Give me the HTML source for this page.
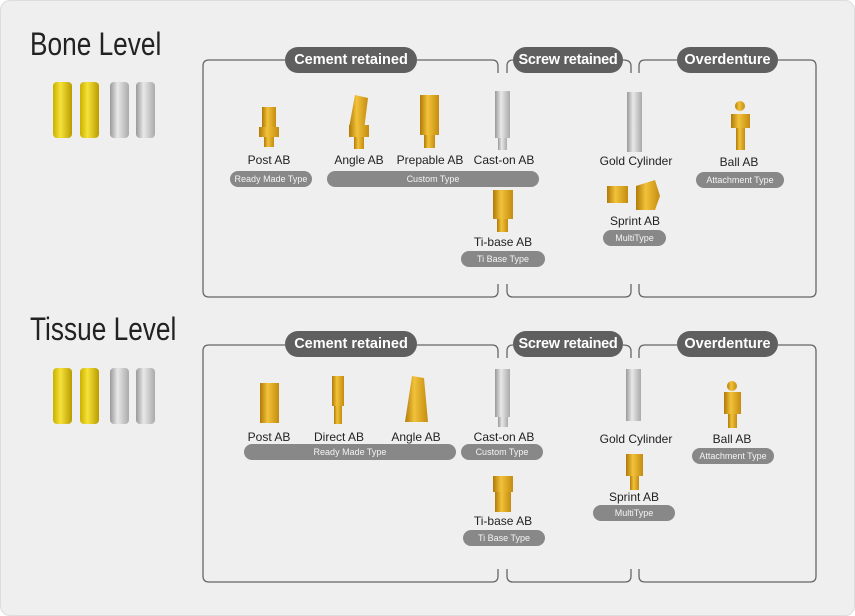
<!DOCTYPE html>
<html><head><meta charset="utf-8"><style>
body{margin:0;width:855px;height:616px;background:#fff;font-family:"Liberation Sans",sans-serif;overflow:hidden}
.bg{position:absolute;left:0;top:0;width:853px;height:614px;background:#efefef;border:1px solid #ddd;border-radius:10px}
.t{position:absolute;font-size:12px;color:#222;white-space:nowrap;transform:translateX(-50%)}
.h{position:absolute;font-size:32px;color:#222;font-family:"Liberation Sans Narrow","Liberation Sans",sans-serif;transform:scaleX(0.82);transform-origin:0 0;white-space:nowrap}
.pill{position:absolute;background:#888;color:#f4f4f4;font-size:9px;height:16px;line-height:16px;text-align:center;border-radius:8px;font-family:"Liberation Sans Narrow","Liberation Sans",sans-serif}
.hp{position:absolute;background:#5f5f5f;color:#fff;font-weight:bold;font-size:14.5px;height:26px;line-height:26px;text-align:center;border-radius:13px;white-space:nowrap}
svg{position:absolute;left:0;top:0}
</style></head><body>
<div class="bg"></div>
<svg width="855" height="616">
<defs><linearGradient id="g" x1="0" x2="1"><stop offset="0" stop-color="#b07a08"/><stop offset=".4" stop-color="#f2c23a"/><stop offset="1" stop-color="#c48c10"/></linearGradient>
<linearGradient id="s" x1="0" x2="1"><stop offset="0" stop-color="#999"/><stop offset=".4" stop-color="#e8e8e8"/><stop offset="1" stop-color="#aaa"/></linearGradient>
<linearGradient id="y" x1="0" x2="1"><stop offset="0" stop-color="#c9b000"/><stop offset=".4" stop-color="#f6e23a"/><stop offset="1" stop-color="#b89c00"/></linearGradient></defs>
<g fill="none" stroke="#666" stroke-width="1.3">
<g id="fr">
<path d="M285 60 H209 Q203 60 203 66 V291 Q203 297 209 297 H492 Q498 297 498 291 V284 M498 73 V66 Q498 60 492 60 H417"/>
<path d="M507 73 V66 Q507 60 513 60 M623 60 Q631 60 631 66 V73 M507 284 V291 Q507 297 513 297 H625 Q631 297 631 291 V284"/>
<path d="M639 73 V66 Q639 60 645 60 H677 M778 60 H810 Q816 60 816 66 V291 Q816 297 810 297 H645 Q639 297 639 291 V284"/>
</g>
<use href="#fr" y="285"/>
</g>
<g>
<rect x="53" y="82" width="19" height="56" rx="4" fill="url(#y)"/><rect x="80" y="82" width="19" height="56" rx="4" fill="url(#y)"/>
<rect x="110" y="82" width="19" height="56" rx="4" fill="url(#s)"/><rect x="136" y="82" width="19" height="56" rx="4" fill="url(#s)"/>
<rect x="53" y="368" width="19" height="56" rx="4" fill="url(#y)"/><rect x="80" y="368" width="19" height="56" rx="4" fill="url(#y)"/>
<rect x="110" y="368" width="19" height="56" rx="4" fill="url(#s)"/><rect x="136" y="368" width="19" height="56" rx="4" fill="url(#s)"/>
</g>
<g fill="url(#g)">
<rect x="262" y="107" width="14" height="22"/><rect x="259" y="127" width="20" height="10"/><rect x="264" y="137" width="10" height="10"/>
<path d="M355 95 L368 98 L364 130 L349 128 Z"/><rect x="349" y="125" width="20" height="12"/><rect x="354" y="137" width="10" height="12"/>
<rect x="420" y="95" width="19" height="40"/><rect x="424" y="135" width="11" height="13"/>
<rect x="493" y="190" width="20" height="15"/><rect x="493" y="205" width="20" height="14"/><rect x="497" y="219" width="11" height="13"/>
<rect x="607" y="186" width="21" height="17"/><path d="M636 186 L655 180 L660 196 L655 210 L636 210 Z"/>
<circle cx="740" cy="106" r="5"/><rect x="731" y="114" width="19" height="14"/><rect x="736" y="128" width="9" height="22"/>
</g>
<g fill="url(#s)"><rect x="495" y="91" width="15" height="47"/><rect x="498" y="138" width="9" height="12"/><rect x="627" y="92" width="15" height="60"/></g>
<g fill="url(#g)">
<rect x="260" y="383" width="19" height="40"/>
<rect x="332" y="376" width="12" height="30"/><rect x="334" y="406" width="8" height="18"/>
<path d="M412 376 L424 378 L428 422 L405 422 Z"/>
<rect x="493" y="476" width="20" height="16"/><rect x="495" y="492" width="16" height="20"/>
<rect x="626" y="454" width="17" height="22"/><rect x="630" y="476" width="9" height="14"/>
<circle cx="732" cy="386" r="5"/><rect x="724" y="392" width="17" height="22"/><rect x="728" y="414" width="9" height="14"/>
</g>
<g fill="url(#s)"><rect x="495" y="369" width="15" height="48"/><rect x="626" y="369" width="15" height="52"/><rect x="498" y="417" width="10" height="10"/></g>
</svg>
<div class="h" style="left:30px;top:26px">Bone Level</div>
<div class="h" style="left:30px;top:311px">Tissue Level</div>
<div class="hp" style="left:285px;top:47px;width:132px">Cement retained</div>
<div class="hp" style="left:513px;top:47px;width:110px;letter-spacing:-0.3px">Screw retained</div>
<div class="hp" style="left:677px;top:47px;width:101px">Overdenture</div>
<div class="hp" style="left:285px;top:331px;width:132px">Cement retained</div>
<div class="hp" style="left:513px;top:331px;width:110px;letter-spacing:-0.3px">Screw retained</div>
<div class="hp" style="left:677px;top:331px;width:101px">Overdenture</div>

<div class="t" style="left:269px;top:153px">Post AB</div>
<div class="t" style="left:359px;top:153px">Angle AB</div>
<div class="t" style="left:430px;top:153px">Prepable AB</div>
<div class="t" style="left:504px;top:153px">Cast-on AB</div>
<div class="t" style="left:636px;top:154px">Gold Cylinder</div>
<div class="t" style="left:739px;top:155px">Ball AB</div>
<div class="t" style="left:503px;top:235px">Ti-base AB</div>
<div class="t" style="left:635px;top:214px">Sprint AB</div>
<div class="pill" style="left:230px;top:171px;width:82px">Ready Made Type</div>
<div class="pill" style="left:327px;top:171px;width:212px">Custom Type</div>
<div class="pill" style="left:461px;top:251px;width:84px">Ti Base Type</div>
<div class="pill" style="left:603px;top:230px;width:63px">MultiType</div>
<div class="pill" style="left:696px;top:172px;width:88px">Attachment Type</div>

<div class="t" style="left:269px;top:430px">Post AB</div>
<div class="t" style="left:339px;top:430px">Direct AB</div>
<div class="t" style="left:416px;top:430px">Angle AB</div>
<div class="t" style="left:504px;top:430px">Cast-on AB</div>
<div class="t" style="left:636px;top:432px">Gold Cylinder</div>
<div class="t" style="left:732px;top:432px">Ball AB</div>
<div class="t" style="left:503px;top:514px">Ti-base AB</div>
<div class="t" style="left:634px;top:490px">Sprint AB</div>
<div class="pill" style="left:244px;top:444px;width:212px">Ready Made Type</div>
<div class="pill" style="left:461px;top:444px;width:82px">Custom Type</div>
<div class="pill" style="left:463px;top:530px;width:82px">Ti Base Type</div>
<div class="pill" style="left:593px;top:505px;width:82px">MultiType</div>
<div class="pill" style="left:692px;top:448px;width:82px">Attachment Type</div>
</body></html>
